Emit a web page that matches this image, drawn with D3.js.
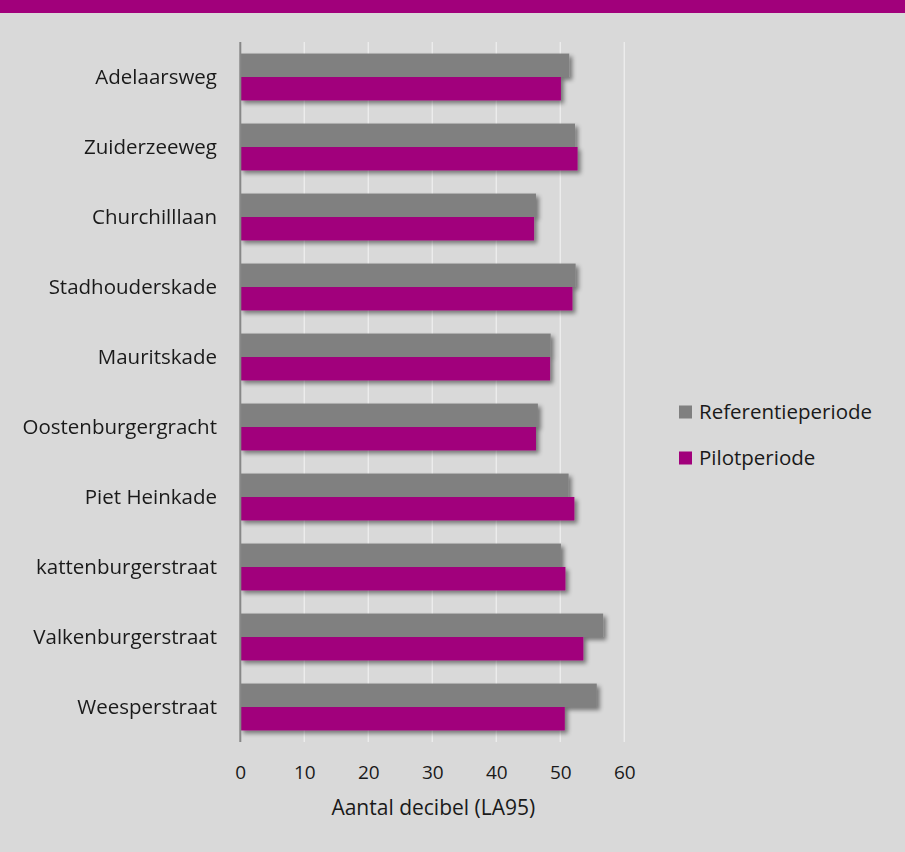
<!DOCTYPE html>
<html>
<head>
<meta charset="utf-8">
<script src="https://cdn.jsdelivr.net/npm/d3@7"></script>
<style>
  body { margin: 0; background: #d9d9d9; }
  svg { display: block; font-family: "Open Sans", sans-serif; }
</style>
</head>
<body>
<div id="chart"></div>
<script>
// data
var streets = ["Adelaarsweg", "Zuiderzeeweg", "Churchilllaan", "Stadhouderskade", "Mauritskade",
    "Oostenburgergracht", "Piet Heinkade", "kattenburgerstraat", "Valkenburgerstraat", "Weesperstraat"];
var referentie = [51.4, 52.3, 46.2, 52.4, 48.5, 46.5, 51.3, 50.1, 56.7, 55.7];
var pilot = [50.1, 52.7, 45.9, 51.9, 48.4, 46.2, 52.2, 50.8, 53.6, 50.7];
var series = ["Referentieperiode", "Pilotperiode"];
var xTicks = [0, 10, 20, 30, 40, 50, 60];

var colors = { "Referentieperiode": "#808080", "Pilotperiode": "#a1007b" };
var width = 905, height = 852;
var plot = { left: 240.3, right: 624.3, top: 42, bottom: 742 };
var fontSize = 20.5;

var svg = d3.select("#chart").append("svg")
    .attr("width", width)
    .attr("height", height);

// drop shadow like the original bars
var defs = svg.append("defs");
defs.append("filter")
    .attr("id", "shadow")
    .attr("x", "-10%").attr("y", "-30%")
    .attr("width", "130%").attr("height", "180%")
  .append("feDropShadow")
    .attr("dx", 3).attr("dy", 3)
    .attr("stdDeviation", 2.2)
    .attr("flood-color", "#000")
    .attr("flood-opacity", 0.45);

svg.append("rect")
    .attr("width", width).attr("height", height)
    .attr("fill", "#d9d9d9");

// banner at the top
svg.append("rect")
    .attr("width", width).attr("height", 13)
    .attr("fill", "#a1007b");

var x = d3.scaleLinear().domain([0, 60]).range([plot.left, plot.right]);
var y = d3.scaleBand().domain(streets).range([plot.top, plot.bottom]).paddingInner(0.33).paddingOuter(0.165);
var y1 = d3.scaleBand().domain(series).range([0, y.bandwidth()]);

// gridlines
svg.append("g")
    .selectAll("line")
    .data(xTicks.slice(1))
    .join("line")
    .attr("x1", d => x(d)).attr("x2", d => x(d))
    .attr("y1", plot.top).attr("y2", plot.bottom)
    .attr("stroke", "#ececec")
    .attr("stroke-width", 1.5);

var rows = streets.map(function(s, i) {
    return [
        { street: s, key: "Referentieperiode", value: referentie[i] },
        { street: s, key: "Pilotperiode", value: pilot[i] }
    ];
});

svg.append("g")
    .attr("filter", "url(#shadow)")
    .selectAll("g")
    .data(rows)
    .join("g")
    .attr("transform", d => "translate(0," + y(d[0].street) + ")")
    .selectAll("rect")
    .data(d => d)
    .join("rect")
    .attr("x", x(0))
    .attr("y", d => y1(d.key))
    .attr("width", d => x(d.value) - x(0))
    .attr("height", y1.bandwidth())
    .attr("fill", d => colors[d.key]);

// vertical axis line
svg.append("line")
    .attr("x1", x(0)).attr("x2", x(0))
    .attr("y1", plot.top).attr("y2", plot.bottom)
    .attr("stroke", "#878787")
    .attr("stroke-width", 2);

// category labels
svg.append("g")
    .selectAll("text")
    .data(streets)
    .join("text")
    .attr("x", 217)
    .attr("y", d => y(d) + y.bandwidth() / 2)
    .attr("dy", "0.35em")
    .attr("text-anchor", "end")
    .attr("font-size", fontSize)
    .attr("fill", "#1a1a1a")
    .text(d => d);

// x tick labels
var xAxis = d3.axisBottom(x).tickValues(xTicks).tickSize(0).tickPadding(0);
var gx = svg.append("g")
    .attr("transform", "translate(0,765)")
    .call(xAxis);
gx.select(".domain").remove();
gx.selectAll("text")
    .attr("font-size", 19)
    .attr("font-family", "Open Sans, sans-serif")
    .attr("fill", "#1a1a1a");

svg.append("text")
    .attr("x", (plot.left + plot.right) / 2 + 1)
    .attr("y", 815)
    .attr("text-anchor", "middle")
    .attr("font-size", 21)
    .attr("fill", "#1a1a1a")
    .text("Aantal decibel (LA95)");

// legend
var legend = svg.append("g")
    .selectAll("g")
    .data(series)
    .join("g")
    .attr("transform", (d, i) => "translate(679," + (412 + i * 46) + ")");
legend.append("rect")
    .attr("y", -6.5)
    .attr("width", 13).attr("height", 13)
    .attr("fill", d => colors[d]);
legend.append("text")
    .attr("x", 20)
    .attr("dy", "0.35em")
    .attr("font-size", fontSize)
    .attr("fill", "#1a1a1a")
    .text(d => d);
</script>
</body>
</html>
